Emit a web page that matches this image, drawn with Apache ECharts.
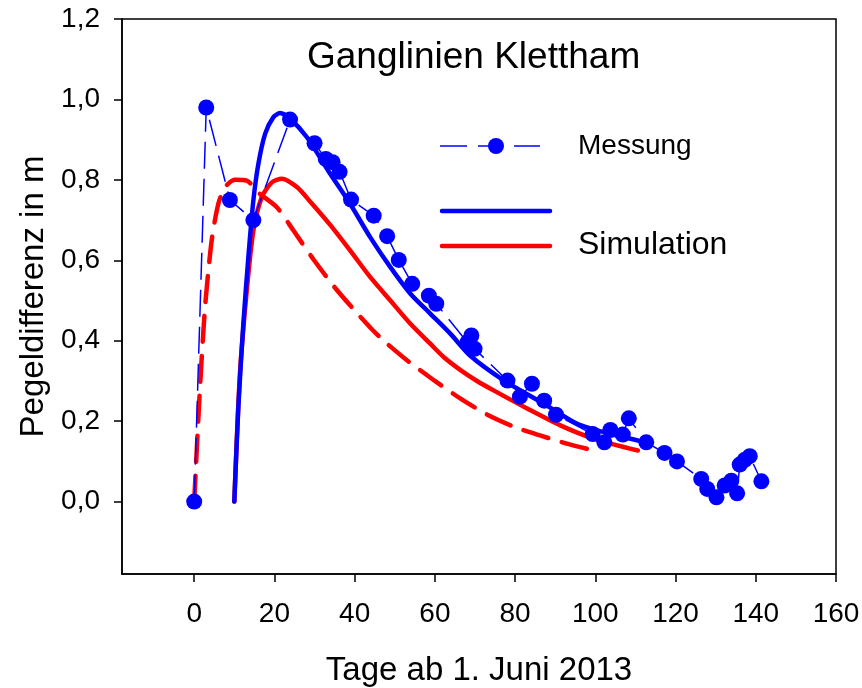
<!DOCTYPE html>
<html>
<head>
<meta charset="utf-8">
<script src="https://cdn.jsdelivr.net/npm/echarts@6/dist/echarts.min.js"></script>
<style>html,body{margin:0;padding:0;background:#fff}#c{width:862px;height:688px}</style>
</head>
<body>
<div id="c"></div>
<script>
// Tick labels
const xTicks = [0, 20, 40, 60, 80, 100, 120, 140, 160];
const yTicks = [0, 0.2, 0.4, 0.6, 0.8, 1.0, 1.2];

// Messung (Tage, Pegeldifferenz)
const messungX = [0, 3, 8.9, 14.75, 23.9, 30, 32.8, 34.5, 36.25, 39.1, 44.75, 48.1, 51, 54.35, 58.5, 60.35, 68.1, 69.1, 69.9, 78.1, 81.2, 84.2, 87.25, 90.2, 99.35, 102.25, 103.75, 106.85, 108.35, 112.7, 117.25, 120.35, 126.4, 127.9, 130.2, 132.25, 133.9, 135.35, 136, 137.25, 138.5, 141.4];
const messungY = [0, 0.98, 0.75, 0.70, 0.95, 0.891, 0.852, 0.844, 0.82, 0.751, 0.711, 0.66, 0.601, 0.5415, 0.512, 0.492, 0.396, 0.413, 0.38, 0.301, 0.261, 0.293, 0.251, 0.216, 0.168, 0.1475, 0.178, 0.1667, 0.207, 0.1475, 0.121, 0.100, 0.0564, 0.0315, 0.0107, 0.04, 0.052, 0.0207, 0.092, 0.104, 0.113, 0.0505];

// Simulation blau (durchgezogen)
const simBlueX = [10, 11, 12.25, 13.5, 14.75, 16, 17.7, 19.75, 21.4, 23.9, 28.1, 33.9, 38.9, 43.9, 48.9, 53.9, 58.9, 63.9, 68.9, 77.25, 87.25, 95.6, 103.9, 110.6];
const simBlueY = [0, 0.235, 0.442, 0.608, 0.749, 0.84, 0.915, 0.956, 0.966, 0.952, 0.906, 0.815, 0.74, 0.657, 0.583, 0.517, 0.467, 0.417, 0.362, 0.301, 0.243, 0.193, 0.168, 0.152];

// Simulation rot (durchgezogen)
const simRedX = [10, 11.4, 13.1, 14.75, 16.85, 19.35, 21.85, 25.6, 29, 33.9, 38.9, 43.9, 48.9, 53.9, 58.9, 62.25, 66.4, 70.5, 74.75, 83.1, 91.4, 99.75, 110.6];
const simRedY = [0, 0.318, 0.525, 0.674, 0.757, 0.794, 0.803, 0.782, 0.745, 0.688, 0.624, 0.558, 0.50, 0.442, 0.392, 0.359, 0.327, 0.300, 0.276, 0.231, 0.189, 0.156, 0.127];

// Simulation rot (gestrichelt)
const simRedDashX = [0, 1.4, 2.7, 4.35, 6, 7.7, 10.2, 13.1, 16.4, 20.6, 24.75, 29.75, 35, 39.75, 44.35, 47.7, 53.1, 60, 66.4, 73.1, 80, 86.4, 93.1, 100.6];
const simRedDashY = [0, 0.276, 0.483, 0.649, 0.74, 0.782, 0.80, 0.798, 0.765, 0.732, 0.674, 0.602, 0.533, 0.478, 0.428, 0.396, 0.351, 0.30, 0.256, 0.216, 0.185, 0.164, 0.1435, 0.125];

const zip = (xs, ys) => xs.map((x, i) => [x, ys[i]]);
const FONT = 'Liberation Sans, Arial, sans-serif';
const BLUE = '#0000FF', RED = '#FF0000';

const chart = echarts.init(document.getElementById('c'), null, {renderer: 'canvas'});
chart.setOption({
  animation: false,
  backgroundColor: '#fff',
  textStyle: {fontFamily: FONT, color: '#000'},
  title: {
    text: 'Ganglinien Klettham',
    left: 302, top: 34,
    textStyle: {fontFamily: FONT, fontSize: 37, fontWeight: 'normal', color: '#000'}
  },
  grid: {
    left: 122, right: 26, top: 19, bottom: 114,
    outerBoundsMode: 'none', containLabel: false,
    show: true, borderColor: '#000', borderWidth: 1.5, backgroundColor: 'transparent'
  },
  xAxis: {
    type: 'value', min: -18, max: 160,
    name: 'Tage ab 1. Juni 2013', nameLocation: 'middle', nameGap: 80,
    nameTextStyle: {fontFamily: FONT, fontSize: 33, color: '#000'},
    axisLine: {show: true, onZero: false, lineStyle: {color: '#000', width: 1.5}},
    axisTick: {show: true, inside: false, length: 8, lineStyle: {color: '#000', width: 1.5}, customValues: xTicks},
    axisLabel: {fontFamily: FONT, fontSize: 28, color: '#000', margin: 26, customValues: xTicks},
    splitLine: {show: false}
  },
  yAxis: {
    type: 'value', min: -0.18, max: 1.2,
    name: 'Pegeldifferenz in m', nameLocation: 'middle', nameGap: 72,
    nameTextStyle: {fontFamily: FONT, fontSize: 33, color: '#000'},
    axisLine: {show: true, onZero: false, lineStyle: {color: '#000', width: 1.5}},
    axisTick: {show: true, inside: false, length: 8, lineStyle: {color: '#000', width: 1.5}, customValues: yTicks},
    axisLabel: {fontFamily: FONT, fontSize: 28, color: '#000', margin: 22, customValues: yTicks,
      formatter: v => v.toFixed(1).replace('.', ',')},
    splitLine: {show: false}
  },
  graphic: [
    {type: 'line', shape: {x1: 440, y1: 146, x2: 467, y2: 146}, style: {stroke: BLUE, lineWidth: 1.5}},
    {type: 'line', shape: {x1: 478, y1: 146, x2: 503, y2: 146}, style: {stroke: BLUE, lineWidth: 1.5}},
    {type: 'line', shape: {x1: 514, y1: 146, x2: 540, y2: 146}, style: {stroke: BLUE, lineWidth: 1.5}},
    {type: 'circle', shape: {cx: 496, cy: 146, r: 8}, style: {fill: BLUE}},
    {type: 'text', left: 578, top: 132, style: {text: 'Messung', fontFamily: FONT, fontSize: 28, fill: '#000'}},
    {type: 'line', shape: {x1: 442, y1: 211, x2: 550, y2: 211}, style: {stroke: BLUE, lineWidth: 4.5, lineCap: 'round'}},
    {type: 'line', shape: {x1: 442, y1: 246, x2: 550, y2: 246}, style: {stroke: RED, lineWidth: 4.5, lineCap: 'round'}},
    {type: 'text', left: 578, top: 229, style: {text: 'Simulation', fontFamily: FONT, fontSize: 32, fill: '#000'}}
  ],
  series: [
    {
      name: 'Simulation (gestrichelt)', type: 'line', data: zip(simRedDashX, simRedDashY),
      smooth: 0.25, showSymbol: false, z: 2,
      lineStyle: {color: RED, width: 4.5, type: [26, 14], cap: 'round'}
    },
    {
      name: 'Simulation rot', type: 'line', data: zip(simRedX, simRedY),
      smooth: 0.25, showSymbol: false, z: 3,
      lineStyle: {color: RED, width: 4.5, cap: 'round'}
    },
    {
      name: 'Simulation blau', type: 'line', data: zip(simBlueX, simBlueY),
      smooth: 0.25, showSymbol: false, z: 4,
      lineStyle: {color: BLUE, width: 4.5, cap: 'round'}
    },
    {
      name: 'Messung', type: 'line', data: zip(messungX, messungY),
      symbol: 'circle', symbolSize: 16, z: 5,
      itemStyle: {color: BLUE},
      lineStyle: {color: BLUE, width: 1.5, type: [27, 10]}
    }
  ]
});
</script>
</body>
</html>
